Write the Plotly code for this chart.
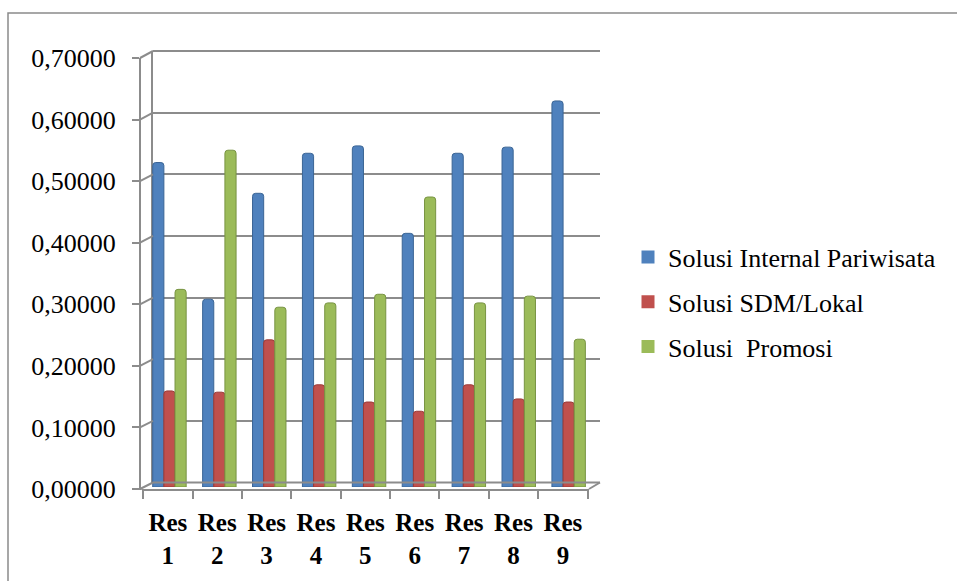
import plotly.graph_objects as go

# Respondent categories and the three solution scores per respondent
categories = ["Res 1", "Res 2", "Res 3", "Res 4", "Res 5", "Res 6", "Res 7", "Res 8", "Res 9"]
internal_pariwisata = [0.527, 0.305, 0.477, 0.542, 0.554, 0.412, 0.542, 0.552, 0.627]
sdm_lokal = [0.156, 0.154, 0.239, 0.166, 0.138, 0.123, 0.166, 0.143, 0.138]
promosi = [0.321, 0.547, 0.292, 0.299, 0.313, 0.471, 0.299, 0.310, 0.240]

series_names = ["Solusi Internal Pariwisata", "Solusi SDM/Lokal", "Solusi  Promosi"]
series_values = [internal_pariwisata, sdm_lokal, promosi]
fill_colors = ["#4F81BD", "#C0504D", "#9BBB59"]
edge_colors = ["#3B6595", "#9A3A37", "#789443"]

y_ticks = [0.0, 0.1, 0.2, 0.3, 0.4, 0.5, 0.6, 0.7]

W, H = 957, 581
FONT = "'Liberation Serif', 'Times New Roman', serif"
GRID = "#8C8C8C"


def px_x(p):
    return p / W


def px_y(p):
    return (H - p) / H


# front frame (axis labels), back wall (gridlines), and the bar plane in between
front_x = (141.7, 589.0)
front_y = (489.0, 58.0)      # pixel rows for 0 and 0.7
back_x = (153.0, 600.0)
back_y = (482.5, 51.0)
bar_x = (144.5, 593.6)
bar_y = (487.0, 56.0)
ymax = 0.7

fig = go.Figure()

for name, vals, fc, ec in zip(series_names, series_values, fill_colors, edge_colors):
    fig.add_trace(go.Bar(
        x=categories, y=vals, name=name, xaxis="x3", yaxis="y3",
        marker=dict(color=fc, line=dict(color=ec, width=1), cornerradius=3),
        legendgroup=name, showlegend=False,
    ))
    # square legend key for the series
    fig.add_trace(go.Scatter(
        x=[None], y=[None], name=name, mode="markers", xaxis="x3", yaxis="y3",
        marker=dict(symbol="square", size=13, color=fc, line=dict(width=0)),
        legendgroup=name, showlegend=True, hoverinfo="skip",
    ))

# carriers so the front and back axes render
fig.add_trace(go.Scatter(x=categories, y=[None] * len(categories), xaxis="x", yaxis="y",
                         showlegend=False, hoverinfo="skip"))
fig.add_trace(go.Scatter(x=[0, 1], y=[None, None], xaxis="x2", yaxis="y2",
                         showlegend=False, hoverinfo="skip"))

shapes = []


def yf(v):
    return front_y[0] + (front_y[1] - front_y[0]) * v / ymax


def yb(v):
    return back_y[0] + (back_y[1] - back_y[0]) * v / ymax


def seg(x0, y0, x1, y1):
    return dict(type="line", xref="paper", yref="paper",
                x0=px_x(x0), y0=px_y(y0), x1=px_x(x1), y1=px_y(y1),
                line=dict(color=GRID, width=2))


# side wall connectors from each front tick to the matching back gridline
for v in y_ticks:
    shapes.append(seg(140, yf(v), back_x[0], yb(v)))
# top edge of the back wall
shapes.append(seg(back_x[0], yb(ymax), back_x[1], yb(ymax)))
# floor: back edge, right edge, left stub
shapes.append(seg(back_x[0], yb(0), back_x[1], yb(0)))
shapes.append(seg(front_x[1], yf(0), back_x[1], yb(0)))
shapes.append(seg(134, yf(0), front_x[0], yf(0)))
# chart border
shapes.append(dict(type="rect", xref="paper", yref="paper",
                   x0=px_x(8), y0=px_y(590), x1=px_x(970), y1=px_y(13),
                   line=dict(color="#8A8A8A", width=1.5)))

fig.update_layout(
    width=W, height=H,
    margin=dict(l=0, r=0, t=0, b=0, pad=0, autoexpand=False),
    paper_bgcolor="white", plot_bgcolor="rgba(0,0,0,0)",
    separators=",.",
    font=dict(family=FONT, color="black", size=26),
    barmode="group", bargap=0.33, bargroupgap=0,
    showlegend=True,
    legend=dict(x=px_x(628), y=px_y(302), xanchor="left", yanchor="middle",
                font=dict(family=FONT, size=26, color="black"),
                traceorder="grouped", tracegroupgap=8, bgcolor="rgba(0,0,0,0)"),
    xaxis=dict(domain=[px_x(front_x[0]), px_x(front_x[1])], anchor="y", automargin=False,
               type="category", categoryorder="array", categoryarray=categories,
               tickvals=categories, ticktext=[c.replace(" ", "<br>") for c in categories],
               tickfont=dict(family=FONT, size=25, color="black", weight="bold"),
               showline=True, linecolor=GRID, linewidth=2,
               ticks="outside", tickson="boundaries", ticklen=8, tickcolor=GRID, tickwidth=2,
               showgrid=False, zeroline=False, ticklabelstandoff=10),
    yaxis=dict(domain=[px_y(front_y[0]), px_y(front_y[1])], anchor="free", automargin=False,
               position=px_x(140), range=[0, ymax],
               tickvals=y_ticks, tickformat=".5f",
               tickfont=dict(family=FONT, size=26, color="black"),
               showline=True, linecolor=GRID, linewidth=2,
               ticks="outside", ticklen=7, tickcolor=GRID, tickwidth=2,
               showgrid=False, zeroline=False, ticklabelstandoff=11),
    xaxis2=dict(domain=[px_x(back_x[0]), px_x(back_x[1])], anchor="y2", range=[0, 1],
                visible=False, automargin=False),
    yaxis2=dict(domain=[px_y(back_y[0]), px_y(back_y[1])], anchor="x2", range=[0, ymax],
                tickvals=y_ticks, showticklabels=False, ticks="", automargin=False,
                showgrid=True, gridcolor=GRID, gridwidth=2,
                showline=True, linecolor=GRID, linewidth=2, zeroline=False),
    xaxis3=dict(domain=[px_x(bar_x[0]), px_x(bar_x[1])], anchor="y3",
                type="category", categoryorder="array", categoryarray=categories,
                visible=False, automargin=False),
    yaxis3=dict(domain=[px_y(bar_y[0]), px_y(bar_y[1])], anchor="x3", range=[0, ymax],
                visible=False, automargin=False),
    shapes=shapes,
)

fig.write_html("out.html")
